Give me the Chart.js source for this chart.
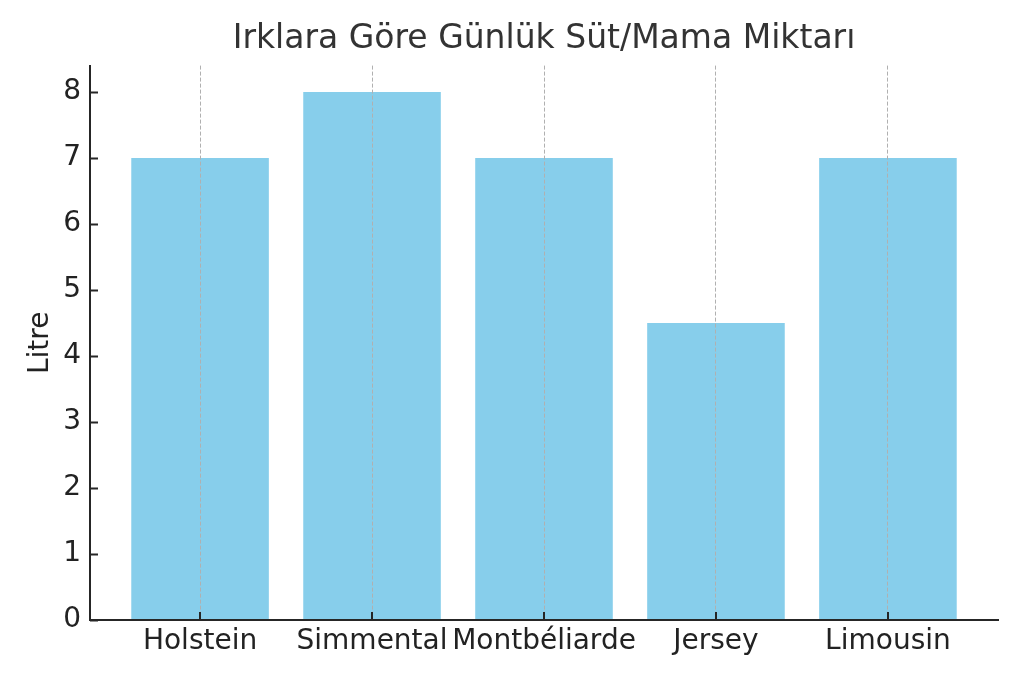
<!DOCTYPE html>
<html>
<head>
<meta charset="utf-8">
<script src="https://cdn.jsdelivr.net/npm/chart.js@4"></script>
<style>
  html, body { margin: 0; padding: 0; background: #fff; }
  #wrap { width: 1024px; height: 683px; }
</style>
</head>
<body>
<div id="wrap"><canvas id="grafico"></canvas></div>
<script>
// dados do grafico
const irklar = ['Holstein', 'Simmental', 'Montbéliarde', 'Jersey', 'Limousin'];
const litreler = [7, 8, 7, 4.5, 7];
const yTicks = [0, 1, 2, 3, 4, 5, 6, 7, 8];

const fonte = "'DejaVu Sans', sans-serif";
const corEixo = '#262626';

// ticks para dentro, como no matplotlib
const ticksDentro = {
  id: 'ticksDentro',
  afterDraw(chart) {
    const ctx = chart.ctx;
    const x = chart.scales.x;
    const y = chart.scales.y;
    const area = chart.chartArea;
    ctx.save();
    ctx.strokeStyle = corEixo;
    ctx.lineWidth = 2;
    ctx.beginPath();
    y.ticks.forEach((t, i) => {
      const py = Math.round(y.getPixelForTick(i)) + 0.5;
      ctx.moveTo(area.left, py);
      ctx.lineTo(area.left + 8, py);
    });
    x.ticks.forEach((t, i) => {
      const px = Math.round(x.getPixelForTick(i));
      ctx.moveTo(px, area.bottom);
      ctx.lineTo(px, area.bottom - 8);
    });
    ctx.stroke();
    ctx.restore();
  }
};

const config = {
  type: 'bar',
  data: {
    datasets: [{
      label: 'Litre',
      data: litreler.map((v, i) => ({ x: i, y: v })),
      backgroundColor: '#87ceeb',
      borderWidth: 0,
      barPercentage: 0.8,
      categoryPercentage: 1
    }]
  },
  options: {
    responsive: false,
    animation: false,
    devicePixelRatio: 1,
    layout: { padding: { left: 0, right: 26, top: 0, bottom: 0 } },
    plugins: {
      legend: { display: false },
      tooltip: { enabled: false },
      title: {
        display: true,
        fullSize: false,
        text: 'Irklara Göre Günlük Süt/Mama Miktarı',
        color: '#333333',
        font: { family: fonte, size: 33, weight: 'normal' },
        padding: { top: 20, bottom: 6 }
      }
    },
    scales: {
      x: {
        type: 'linear',
        min: -0.64,
        max: 4.64,
        offset: false,
        afterBuildTicks: (scale) => {
          scale.ticks = irklar.map((n, i) => ({ value: i }));
        },
        afterFit: (scale) => { scale.height = 63; },
        ticks: {
          callback: (v) => irklar[v],
          color: '#222222',
          font: { family: fonte, size: 28 },
          padding: 5,
          maxRotation: 0,
          autoSkip: false,
          z: 1
        },
        grid: {
          display: true,
          offset: false,
          drawTicks: false,
          color: '#b0b0b0',
          lineWidth: 1,
          z: 1
        },
        border: { display: true, color: corEixo, width: 2, dash: [4, 2], z: 2 }
      },
      y: {
        min: 0,
        max: 8.4,
        afterBuildTicks: (scale) => {
          scale.ticks = yTicks.map(v => ({ value: v }));
        },
        afterFit: (scale) => { scale.width = 90; },
        ticks: {
          color: '#222222',
          font: { family: fonte, size: 28 },
          padding: 9
        },
        grid: { display: false, drawTicks: false },
        border: { display: true, color: corEixo, width: 2 },
        title: {
          display: true,
          text: 'Litre',
          color: '#222222',
          font: { family: fonte, size: 28 },
          padding: { top: 24, bottom: 0 }
        }
      }
    }
  },
  plugins: [ticksDentro]
};

const cv = document.getElementById('grafico');
cv.width = 1024;
cv.height = 683;
const meuGrafico = new Chart(cv, config);
</script>
</body>
</html>
